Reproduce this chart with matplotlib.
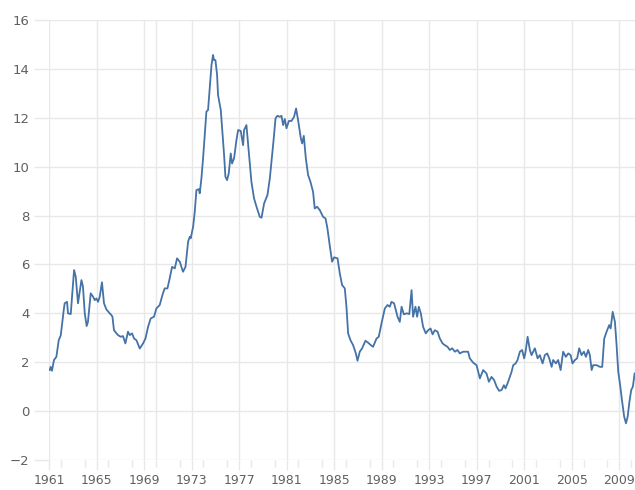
import numpy as np
import matplotlib.pyplot as plt
from matplotlib.ticker import MultipleLocator

# decimal year, value
years = [1961.06, 1961.14, 1961.25, 1961.42, 1961.62, 1961.82, 1961.99, 1962.24, 1962.32, 1962.52,
         1962.60, 1962.83, 1963.11, 1963.25, 1963.44, 1963.73, 1963.86, 1964.01, 1964.17, 1964.28,
         1964.51, 1964.71, 1964.85, 1964.99, 1965.13, 1965.27, 1965.46, 1965.63, 1965.83, 1966.11,
         1966.25, 1966.34, 1966.47, 1966.68, 1966.81, 1967.04, 1967.23, 1967.43, 1967.65, 1967.80,
         1967.99, 1968.16, 1968.36, 1968.64, 1968.92, 1969.12, 1969.34, 1969.56, 1969.84, 1970.04,
         1970.32, 1970.55, 1970.74, 1970.97, 1971.16, 1971.36, 1971.59, 1971.78, 1972.01, 1972.28,
         1972.49, 1972.71, 1972.85, 1972.93, 1973.13, 1973.27, 1973.41, 1973.61, 1973.69, 1973.83,
         1973.97, 1974.11, 1974.25, 1974.39, 1974.53, 1974.68, 1974.81, 1974.89, 1975.01, 1975.15,
         1975.23, 1975.46, 1975.57, 1975.74, 1975.85, 1975.99, 1976.13, 1976.30, 1976.41, 1976.58,
         1976.78, 1976.92, 1977.14, 1977.34, 1977.42, 1977.62, 1977.82, 1978.04, 1978.26, 1978.47,
         1978.74, 1978.89, 1979.11, 1979.39, 1979.59, 1979.78, 1979.92, 1980.07, 1980.23, 1980.43,
         1980.57, 1980.71, 1980.85, 1980.99, 1981.19, 1981.41, 1981.63, 1981.80, 1981.97, 1982.20,
         1982.31, 1982.45, 1982.62, 1982.81, 1983.01, 1983.23, 1983.37, 1983.57, 1983.80, 1984.07,
         1984.28, 1984.44, 1984.64, 1984.83, 1985.00, 1985.29, 1985.48, 1985.67, 1985.90, 1986.04,
         1986.18, 1986.38, 1986.60, 1986.83, 1986.97, 1987.16, 1987.36, 1987.64, 1987.86, 1988.09,
         1988.28, 1988.57, 1988.76, 1988.99, 1989.27, 1989.50, 1989.69, 1989.83, 1990.05, 1990.34,
         1990.53, 1990.68, 1990.87, 1991.12, 1991.33, 1991.52, 1991.65, 1991.85, 1991.99, 1992.13,
         1992.30, 1992.49, 1992.72, 1992.92, 1993.12, 1993.29, 1993.48, 1993.71, 1993.90, 1994.13,
         1994.32, 1994.55, 1994.74, 1994.94, 1995.17, 1995.39, 1995.58, 1995.86, 1996.28, 1996.42,
         1996.71, 1996.99, 1997.27, 1997.55, 1997.83, 1998.03, 1998.25, 1998.47, 1998.68, 1998.89,
         1999.10, 1999.29, 1999.43, 1999.65, 1999.94, 2000.08, 2000.28, 2000.44, 2000.64, 2000.83,
         2001.00, 2001.12, 2001.29, 2001.48, 2001.62, 2001.90, 2002.13, 2002.32, 2002.55, 2002.74,
         2002.94, 2003.11, 2003.31, 2003.44, 2003.67, 2003.86, 2004.07, 2004.28, 2004.51, 2004.71,
         2004.91, 2005.07, 2005.27, 2005.46, 2005.63, 2005.83, 2006.03, 2006.20, 2006.39, 2006.53,
         2006.68, 2006.81, 2007.10, 2007.38, 2007.57, 2007.74, 2007.94, 2008.16, 2008.28, 2008.45,
         2008.64, 2008.78, 2008.92, 2009.06, 2009.25, 2009.42, 2009.57, 2009.71, 2009.86, 2010.01,
         2010.15, 2010.30]
values = [1.68, 1.81, 1.65, 2.09, 2.22, 2.90, 3.10, 4.13, 4.41, 4.47,
          4.00, 3.97, 5.77, 5.50, 4.41, 5.36, 5.09, 4.00, 3.48, 3.65,
          4.82, 4.68, 4.54, 4.61, 4.47, 4.68, 5.27, 4.41, 4.16, 4.00,
          3.93, 3.86, 3.31, 3.18, 3.11, 3.04, 3.07, 2.77, 3.25, 3.11,
          3.18, 2.97, 2.90, 2.56, 2.77, 2.97, 3.45, 3.79, 3.86, 4.20,
          4.34, 4.75, 5.02, 5.02, 5.43, 5.90, 5.84, 6.25, 6.11, 5.70,
          5.90, 6.93, 7.13, 7.07, 7.54, 8.15, 9.04, 9.08, 8.91, 9.52,
          10.34, 11.29, 12.25, 12.32, 13.20, 14.16, 14.57, 14.36, 14.36, 13.75,
          12.93, 12.32, 11.57, 10.47, 9.59, 9.45, 9.72, 10.54, 10.13, 10.34,
          11.09, 11.50, 11.46, 10.88, 11.50, 11.70, 10.61, 9.38, 8.70, 8.36,
          7.95, 7.91, 8.50, 8.84, 9.52, 10.47, 11.16, 11.98, 12.08, 12.04,
          12.08, 11.70, 11.95, 11.57, 11.87, 11.87, 12.04, 12.38, 11.90, 11.16,
          10.95, 11.26, 10.34, 9.66, 9.38, 8.97, 8.29, 8.36, 8.22, 7.95,
          7.88, 7.47, 6.75, 6.11, 6.29, 6.25, 5.63, 5.16, 5.02, 4.27,
          3.18, 2.90, 2.70, 2.36, 2.06, 2.43, 2.57, 2.88, 2.80, 2.70,
          2.63, 2.97, 3.04, 3.59, 4.20, 4.34, 4.27, 4.47, 4.41, 3.86,
          3.65, 4.27, 3.96, 4.00, 3.97, 4.95, 3.86, 4.27, 3.86, 4.27,
          4.00, 3.45, 3.18, 3.31, 3.38, 3.14, 3.31, 3.25, 2.97, 2.77,
          2.70, 2.63, 2.50, 2.57, 2.43, 2.50, 2.36, 2.43, 2.43, 2.16,
          1.98, 1.88, 1.34, 1.68, 1.54, 1.20, 1.40, 1.27, 1.00, 0.83,
          0.86, 1.06, 0.93, 1.20, 1.61, 1.88, 1.95, 2.09, 2.43, 2.50,
          2.16, 2.43, 3.04, 2.50, 2.29, 2.57, 2.16, 2.29, 1.95, 2.29,
          2.36, 2.16, 1.81, 2.09, 1.95, 2.09, 1.68, 2.43, 2.22, 2.36,
          2.29, 1.95, 2.09, 2.16, 2.57, 2.29, 2.43, 2.22, 2.50, 2.29,
          1.68, 1.88, 1.88, 1.81, 1.81, 2.97, 3.25, 3.52, 3.38, 4.06,
          3.65, 2.70, 1.61, 1.13, 0.38, -0.23, -0.50, -0.23, 0.38, 0.86,
          1.00, 1.54]

year_ticks = list(range(1961, 2010, 4))

grid_c = '#e8e8e8'
label_c = '#606060'

fig = plt.figure(figsize=(6.35, 4.9), dpi=100)
ax = fig.add_axes([49 / 635, 30 / 490, 586 / 635, 440 / 490])

ax.plot(years, values, color='#4572A7', lw=1.3, zorder=3)

ax.set_xlim(1961, 2010.33)
ax.set_ylim(-2, 16)
ax.set_yticks(np.arange(-2, 17, 2))
ax.set_xticks(year_ticks)
ax.xaxis.set_minor_locator(MultipleLocator(2))

ax.grid(True, which='major', color=grid_c, lw=1)
ax.axvline(1970, color=grid_c, lw=1, zorder=0)
ax.set_axisbelow(True)
for s in ax.spines.values():
    s.set_visible(False)

ax.tick_params(axis='y', length=11, width=1, color=grid_c, labelcolor=label_c,
               labelsize=9.5, pad=3)
ax.tick_params(axis='x', which='major', length=7, width=1, color=grid_c,
               labelcolor=label_c, labelsize=9, pad=3)
ax.tick_params(axis='x', which='minor', length=5, width=1, color=grid_c)

fig.savefig('out.png', dpi=100)
